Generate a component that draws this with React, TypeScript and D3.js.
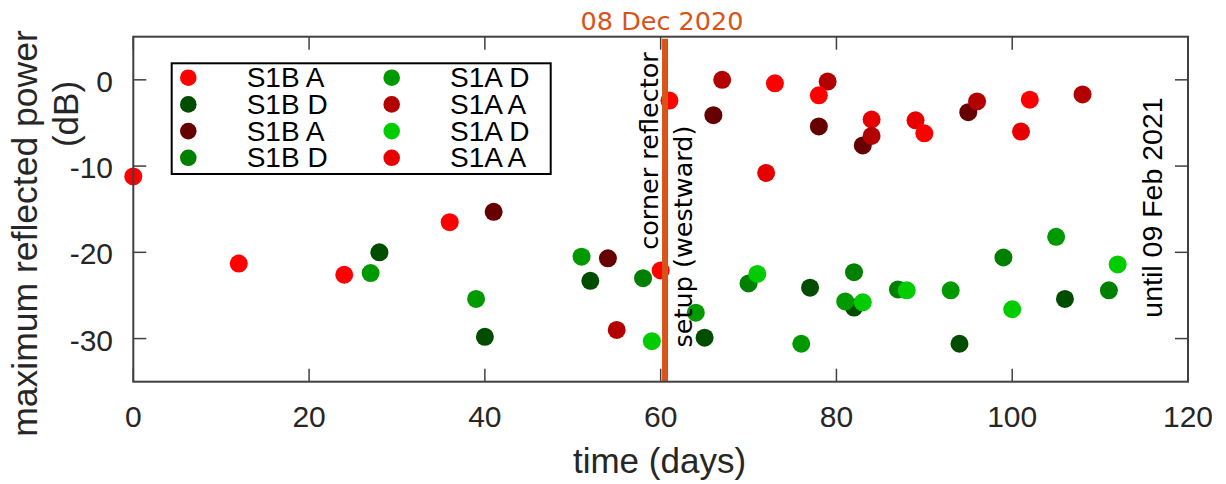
import React from 'react';
import * as d3 from 'd3';

// ---- data (days, dB) ----
const S1B_A_RED_DAYS = [0, 12, 24, 36, 60, 61, 73, 78, 90, 102];
const S1B_A_RED_DB = [-11.2, -21.3, -22.6, -16.5, -22.1, -2.4, -0.4, -1.8, -6.2, -2.3];

const S1B_D_DARK_DAYS = [28, 40, 52, 65, 77, 82, 94, 106];
const S1B_D_DARK_DB = [-20.0, -29.8, -23.3, -29.9, -24.1, -26.4, -30.6, -25.4];

const S1B_A_MAROON_DAYS = [41, 54, 66, 78, 83, 95];
const S1B_A_MAROON_DB = [-15.3, -20.7, -4.1, -5.4, -7.6, -3.75];

const S1B_D_GREEN_DAYS = [58, 70, 82, 87, 99, 111];
const S1B_D_GREEN_DB = [-23.0, -23.6, -22.3, -24.3, -20.6, -24.4];

const S1A_D_GREEN_DAYS = [27, 39, 51, 64, 76, 81, 93, 105];
const S1A_D_GREEN_DB = [-22.4, -25.4, -20.5, -27.0, -30.6, -25.7, -24.4, -18.2];

const S1A_A_DARKRED_DAYS = [55, 67, 79, 84, 96, 108];
const S1A_A_DARKRED_DB = [-29.0, 0.0, -0.2, -6.5, -2.5, -1.7];

const S1A_D_LIGHT_DAYS = [59, 71, 83, 88, 100, 112];
const S1A_D_LIGHT_DB = [-30.3, -22.5, -25.8, -24.4, -26.6, -21.4];

const S1A_A_RED_DAYS = [72, 84, 89, 101];
const S1A_A_RED_DB = [-10.8, -4.6, -4.7, -6.0];

const SERIES_LABELS = ['S1B A', 'S1B D', 'S1B A', 'S1B D', 'S1A D', 'S1A A', 'S1A D', 'S1A A'];
const SERIES_COLORS = ['#ff0000', '#004d00', '#660000', '#008000', '#009900', '#b30000', '#00cc00', '#e60000'];
const SERIES_DAYS = [S1B_A_RED_DAYS, S1B_D_DARK_DAYS, S1B_A_MAROON_DAYS, S1B_D_GREEN_DAYS, S1A_D_GREEN_DAYS, S1A_A_DARKRED_DAYS, S1A_D_LIGHT_DAYS, S1A_A_RED_DAYS];
const SERIES_DB = [S1B_A_RED_DB, S1B_D_DARK_DB, S1B_A_MAROON_DB, S1B_D_GREEN_DB, S1A_D_GREEN_DB, S1A_A_DARKRED_DB, S1A_D_LIGHT_DB, S1A_A_RED_DB];
const DRAW_ORDER = [1, 3, 4, 6, 7, 2, 5, 0];

const X_TICKS = [0, 20, 40, 60, 80, 100, 120];
const Y_TICKS = [-30, -20, -10, 0];
const EVENT_DAY = 60.5;

const W = 1226;
const H = 484;
const L = 133.3, R = 1188, T = 36.7, B = 381.7;

const SANS = '"Liberation Sans", Arial, Helvetica, sans-serif';
const DEJAVU = '"DejaVu Sans", sans-serif';
const ORANGE = '#d95319';
const AXIS = '#404040';

export default function App() {
  const x = d3.scaleLinear().domain([0, 120]).range([L, R]);
  const y = d3.scaleLinear().domain([-35, 5]).range([B, T]);
  const tl = 13;

  const legendRowY = (i: number) => 77.7 + i * 26.7;

  return (
    <svg width={W} height={H} viewBox={`0 0 ${W} ${H}`}
      style={{ position: 'absolute', left: 0, top: 0, background: '#fff' }}>
      <rect x={0} y={0} width={W} height={H} fill="#fff" />

      {/* data points */}
      {DRAW_ORDER.map((si) =>
        SERIES_DAYS[si].map((d, j) => (
          <circle key={`p${si}-${j}`} cx={x(d)} cy={y(SERIES_DB[si][j])} r={9} fill={SERIES_COLORS[si]} />
        ))
      )}

      {/* event line */}
      <line x1={x(EVENT_DAY)} x2={x(EVENT_DAY)} y1={T + 2} y2={B} stroke={ORANGE} strokeWidth={6} />
      <text x={x(EVENT_DAY) - 3} y={30} textAnchor="middle" fontFamily={DEJAVU} fontSize={25.5} fill={ORANGE}>08 Dec 2020</text>

      {/* axis box */}
      <rect x={L} y={T} width={R - L} height={B - T} fill="none" stroke={AXIS} strokeWidth={2} />
      {X_TICKS.map((t) => (
        <g key={`xt${t}`}>
          <line x1={x(t)} x2={x(t)} y1={B} y2={B - tl} stroke={AXIS} strokeWidth={1.5} />
          <line x1={x(t)} x2={x(t)} y1={T} y2={T + tl} stroke={AXIS} strokeWidth={1.5} />
          <text x={x(t)} y={426.5} textAnchor="middle" fontFamily={SANS} fontSize={30} fill="#262626">{t}</text>
        </g>
      ))}
      {Y_TICKS.map((t) => (
        <g key={`yt${t}`}>
          <line x1={L} x2={L + tl} y1={y(t)} y2={y(t)} stroke={AXIS} strokeWidth={1.5} />
          <line x1={R} x2={R - tl} y1={y(t)} y2={y(t)} stroke={AXIS} strokeWidth={1.5} />
          <text x={113} y={y(t) + 12} textAnchor="end" fontFamily={SANS} fontSize={30} fill="#262626">{t}</text>
        </g>
      ))}

      {/* axis labels */}
      <text x={659.5} y={473} textAnchor="middle" fontFamily={SANS} fontSize={35} fill="#262626">time (days)</text>
      <text transform={`translate(37,233.5) rotate(-90)`} textAnchor="middle" fontFamily={SANS} fontSize={35.5} fill="#262626">maximum reflected power</text>
      <text transform={`translate(78,114) rotate(-90)`} textAnchor="middle" fontFamily={SANS} fontSize={35} fill="#262626">(dB)</text>

      {/* annotations */}
      <text transform={`translate(658,151) rotate(-90)`} textAnchor="middle" fontFamily={DEJAVU} fontSize={25.5} fill="#000">corner reflector</text>
      <text transform={`translate(692,236.5) rotate(-90)`} textAnchor="middle" fontFamily={DEJAVU} fontSize={25.5} fill="#000">setup (westward)</text>
      <text transform={`translate(1162,207.5) rotate(-90)`} textAnchor="middle" fontFamily={SANS} fontSize={28.5} fill="#000">until 09 Feb 2021</text>

      {/* legend */}
      <rect x={171.7} y={63.3} width={379} height={110.7} fill="#fff" stroke="#000" strokeWidth={2} />
      {SERIES_LABELS.map((lab, i) => {
        const col = Math.floor(i / 4);
        const row = i % 4;
        const mx = col === 0 ? 188.3 : 391.7;
        const tx = col === 0 ? 246.7 : 450;
        const cy = legendRowY(row);
        return (
          <g key={`lg${i}`}>
            <circle cx={mx} cy={cy} r={8.3} fill={SERIES_COLORS[i]} />
            <text x={tx} y={cy + 9.5} fontFamily={SANS} fontSize={28} fill="#000">{lab}</text>
          </g>
        );
      })}
    </svg>
  );
}
